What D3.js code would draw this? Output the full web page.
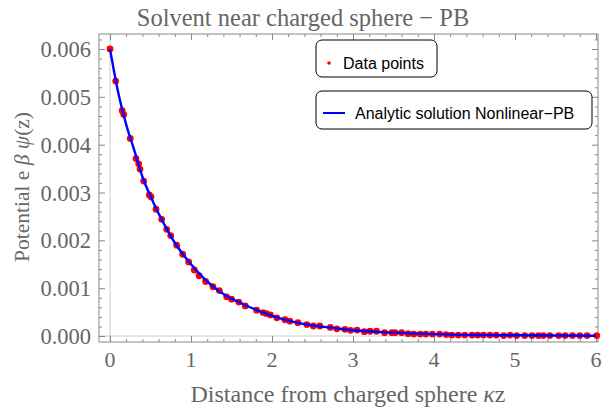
<!DOCTYPE html>
<html>
<head>
<meta charset="utf-8">
<script src="https://cdn.jsdelivr.net/npm/d3@7"></script>
<style>
  body { margin: 0; background: #fff; }
  svg text { font-family: "Liberation Serif", "Times New Roman", serif; fill: #666; }
  .leg text { font-family: "Liberation Sans", Arial, sans-serif; fill: #000; }
</style>
</head>
<body>
<svg id="chart" width="603" height="410"></svg>
<script>
// scattered data points (kz, potential)
var dataX = [0, 0.07, 0.15, 0.17, 0.25, 0.32, 0.354, 0.37, 0.416, 0.485, 0.506, 0.568,
    0.638, 0.70, 0.749, 0.823, 0.897, 0.971, 1.04, 1.10, 1.18, 1.27, 1.35, 1.44, 1.50,
    1.59, 1.67, 1.81, 1.89, 1.93, 1.98, 2.06, 2.16, 2.22, 2.32, 2.43, 2.51, 2.59, 2.72,
    2.80, 2.90, 2.97, 3.05, 3.14, 3.21, 3.29, 3.39, 3.48, 3.52, 3.60, 3.68, 3.75, 3.83,
    3.90, 3.98, 4.07, 4.15, 4.22, 4.30, 4.38, 4.47, 4.54, 4.61, 4.69, 4.77, 4.86, 4.94,
    5.02, 5.12, 5.21, 5.29, 5.35, 5.43, 5.54, 5.62, 5.71, 5.80, 5.89, 6.01];
var dataY = [0.00600, 0.00533, 0.00471, 0.00463, 0.00413, 0.00371, 0.00360, 0.00349, 0.00324,
    0.00295, 0.00291, 0.00265, 0.00244, 0.00223, 0.00210, 0.00190, 0.00171, 0.00155, 0.00138,
    0.00126, 0.00114, 0.00103, 0.00095, 0.00082, 0.00077, 0.00071, 0.00063, 0.00054, 0.00049,
    0.00047, 0.00044, 0.00038, 0.00034, 0.00031, 0.00028, 0.00024, 0.00021, 0.00021, 0.00018,
    0.00015, 0.00014, 0.00012, 0.000125, 0.00009, 0.00010, 0.00010, 0.00007, 0.00007, 0.00007,
    0.00007, 0.00005, 0.00004, 0.00004, 0.00004, 0.00004, 0.00004, 0.00003, 0.00002, 0.00002,
    0.00002, 0.00002, 0.00002, 0.00002, 0.00002, 0.00002, 0.00001, 0.00002, 0.00001, 0.00001,
    0.00001, 0.00001, 0.00001, 0.00001, 0.00001, 0.00001, 0.00001, 0.00001, 0.00001, 0.00001];

// analytic curve
var curveX = [0, 0.1, 0.2, 0.3, 0.4, 0.5, 0.6, 0.7, 0.8, 0.9, 1.0, 1.2, 1.4, 1.6, 1.8, 2.0,
    2.25, 2.5, 2.75, 3.0, 3.5, 4.0, 4.5, 5.0, 5.5, 6.0];
var curveY = [0.00600, 0.00510, 0.00442, 0.00388, 0.00333, 0.00292, 0.00256, 0.00224, 0.00195,
    0.00171, 0.00150, 0.00114, 0.00088, 0.00070, 0.00055, 0.00042, 0.00030, 0.00022, 0.00017,
    0.00012, 0.00007, 0.00004, 0.00002, 0.000015, 0.00001, 0.000007];

var xTicks = [0, 1, 2, 3, 4, 5, 6];
var yTicks = [0, 0.001, 0.002, 0.003, 0.004, 0.005, 0.006];

var fLeft = 99, fRight = 598, fTop = 34, fBottom = 342;

var svg = d3.select("#chart");

var x = d3.scaleLinear().domain([-0.136, 6.025]).range([fLeft, fRight]);
var y = d3.scaleLinear().domain([-0.000125, 0.006314]).range([fBottom, fTop]);

// light axis lines at zero
svg.append("line")
    .attr("x1", x(0)).attr("x2", x(0)).attr("y1", fTop).attr("y2", fBottom)
    .attr("stroke", "#ccc").attr("stroke-width", 1);
svg.append("line")
    .attr("x1", fLeft).attr("x2", fRight).attr("y1", y(0)).attr("y2", y(0))
    .attr("stroke", "#ccc").attr("stroke-width", 1);

// frame ticks
var minorX = d3.range(0, 6.01, 0.2).filter(function (d) { return Math.abs(d - Math.round(d)) > 1e-6; });
var minorY = d3.range(0, 0.0063, 0.0002).filter(function (d) { return Math.abs(d * 1000 - Math.round(d * 1000)) > 1e-6; });

svg.append("g").attr("transform", "translate(0," + fBottom + ")")
    .call(d3.axisTop(x).tickValues(xTicks).tickSize(6).tickFormat(""));
svg.append("g").attr("transform", "translate(0," + fBottom + ")")
    .call(d3.axisTop(x).tickValues(minorX).tickSize(3).tickFormat(""));
svg.append("g").attr("transform", "translate(0," + fTop + ")")
    .call(d3.axisBottom(x).tickValues(xTicks).tickSize(6).tickFormat(""));
svg.append("g").attr("transform", "translate(0," + fTop + ")")
    .call(d3.axisBottom(x).tickValues(minorX).tickSize(3).tickFormat(""));
svg.append("g").attr("transform", "translate(" + fLeft + ",0)")
    .call(d3.axisRight(y).tickValues(yTicks).tickSize(6).tickFormat(""));
svg.append("g").attr("transform", "translate(" + fLeft + ",0)")
    .call(d3.axisRight(y).tickValues(minorY).tickSize(3).tickFormat(""));
svg.append("g").attr("transform", "translate(" + fRight + ",0)")
    .call(d3.axisLeft(y).tickValues(yTicks).tickSize(6).tickFormat(""));
svg.append("g").attr("transform", "translate(" + fRight + ",0)")
    .call(d3.axisLeft(y).tickValues(minorY).tickSize(3).tickFormat(""));

svg.selectAll(".domain").remove();
svg.selectAll(".tick line").attr("stroke", "#888");

svg.append("rect")
    .attr("x", fLeft).attr("y", fTop)
    .attr("width", fRight - fLeft).attr("height", fBottom - fTop)
    .attr("fill", "none").attr("stroke", "#888").attr("stroke-width", 1);

// tick labels
svg.append("g").selectAll("text")
    .data(xTicks).enter().append("text")
    .attr("x", function (d) { return x(d); })
    .attr("y", 367)
    .attr("text-anchor", "middle")
    .attr("font-size", 22)
    .text(function (d) { return d; });

svg.append("g").selectAll("text")
    .data(yTicks).enter().append("text")
    .attr("x", 91)
    .attr("y", function (d) { return y(d) + 8; })
    .attr("text-anchor", "end")
    .attr("font-size", 22.5)
    .text(function (d) { return d3.format(".3f")(d); });

// titles
svg.append("text")
    .attr("x", 303).attr("y", 26)
    .attr("text-anchor", "middle")
    .attr("font-size", 24.5)
    .text("Solvent near charged sphere \u2212 PB");

var xl = svg.append("text")
    .attr("x", 348).attr("y", 402)
    .attr("text-anchor", "middle")
    .attr("font-size", 24);
xl.append("tspan").text("Distance from charged sphere ");
xl.append("tspan").attr("font-style", "italic").text("\u03BA");
xl.append("tspan").text("z");

var yl = svg.append("text")
    .attr("transform", "translate(29,187) rotate(-90)")
    .attr("text-anchor", "middle")
    .attr("font-size", 21.5);
yl.append("tspan").text("Potential  e ");
yl.append("tspan").attr("font-style", "italic").text("\u03B2 \u03C8");
yl.append("tspan").text("(z)");

// data and curve
var plot = svg.append("g");
plot.selectAll("circle")
    .data(dataX).enter().append("circle")
    .attr("cx", function (d) { return x(d); })
    .attr("cy", function (d, i) { return y(dataY[i]); })
    .attr("r", 3.4)
    .attr("fill", "#ff0000");

var line = d3.line()
    .x(function (d) { return x(d); })
    .y(function (d, i) { return y(curveY[i]); })
    .curve(d3.curveMonotoneX);

plot.append("path")
    .datum(curveX)
    .attr("d", line)
    .attr("fill", "none")
    .attr("stroke", "#0000ff")
    .attr("stroke-width", 2.4);

// legends
var leg = svg.append("g").attr("class", "leg");
leg.append("rect")
    .attr("x", 316).attr("y", 40).attr("width", 121).attr("height", 37)
    .attr("rx", 6).attr("fill", "#fff").attr("stroke", "#000");
leg.append("circle").attr("cx", 329).attr("cy", 63).attr("r", 1.8).attr("fill", "#ff0000");
leg.append("text").attr("x", 343).attr("y", 69).attr("font-size", 16).text("Data points");

leg.append("rect")
    .attr("x", 316).attr("y", 91).attr("width", 276).attr("height", 38)
    .attr("rx", 6).attr("fill", "#fff").attr("stroke", "#000");
leg.append("line")
    .attr("x1", 323).attr("x2", 345).attr("y1", 113).attr("y2", 113)
    .attr("stroke", "#0000ff").attr("stroke-width", 2);
leg.append("text").attr("x", 355).attr("y", 119).attr("font-size", 16).text("Analytic solution Nonlinear\u2212PB");
</script>
</body>
</html>
